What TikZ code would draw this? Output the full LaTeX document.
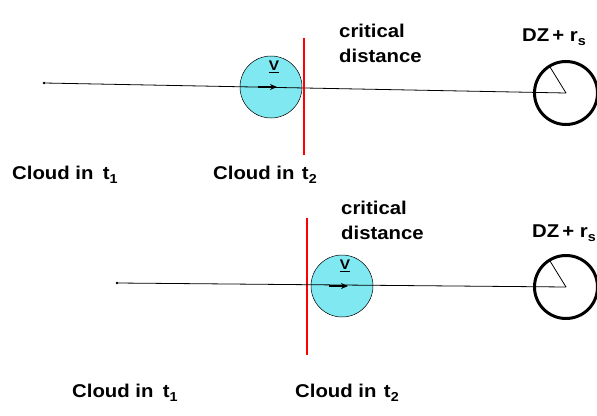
\documentclass[tikz,border=0pt]{standalone}
\usepackage{fontspec}
\setmainfont{Liberation Sans}[FakeStretch=1.1]
\usetikzlibrary{arrows.meta}
\definecolor{cloudfill}{RGB}{128,232,240}
\newcommand{\lowsub}[1]{\raisebox{-4.5pt}{\fontsize{13}{13}\selectfont #1}}
\begin{document}
\begin{tikzpicture}[x=1pt,y=-1pt,
  lbl/.style={font=\fontsize{18.5}{25}\selectfont\bfseries, inner sep=0pt, anchor=base west},
  twoline/.style={font=\fontsize{18.5}{25}\selectfont\bfseries, inner sep=0pt, anchor=north west, align=left},
  cloud/.style={circle, draw=black, line width=0.5pt, fill=cloudfill, minimum size=62pt, inner sep=0pt},
  dz/.style={circle, draw=black, line width=3pt, minimum size=63pt, inner sep=0pt},
  traj/.style={draw=black, line width=0.8pt},
  crit/.style={draw=red, line width=2.5pt},
  vel/.style={-{Stealth[length=7pt,width=6pt]}, line width=1.2pt},
  vlab/.style={font=\fontsize{14}{16}\selectfont\bfseries, inner sep=0pt}
  ]
\useasboundingbox (0,0) rectangle (597,415);

% ---------- top scene ----------
\coordinate (s1) at (44,83);
\node[cloud] (c1) at (271,87) {};
\node[dz] (d1) at (566,93) {};
\fill (s1) circle (1.3pt);
\draw[traj] (s1) -- (d1.center);
\draw[traj] (d1.center) -- ++(-16,-26);
\draw[vel] ([xshift=-13pt]c1.center) -- ([xshift=6pt]c1.center);
\node[vlab] (v1) at (274,67) {\underline{V}};
\coordinate (r1t) at (304,38);
\coordinate (r1b) at (304,155);
\draw[crit] (r1t) -- (r1b);
\node[twoline] (cd1) at (339,24) {critical\\distance};
\node[lbl] (dzl1) at (522,41) {DZ\,+ r\lowsub{s}};
\node[lbl] (t11) at (12,179) {Cloud in\hspace{0.5em}t\lowsub{1}};
\node[lbl] (t21) at (213,179) {Cloud in\hspace{0.4em}t\lowsub{2}};

% ---------- bottom scene ----------
\coordinate (s2) at (117,283);
\coordinate (r2t) at (307,218);
\coordinate (r2b) at (307,355);
\draw[crit] (r2t) -- (r2b);
\node[cloud] (c2) at (342,286) {};
\node[dz] (d2) at (566,287) {};
\fill (s2) circle (1.3pt);
\draw[traj] (s2) -- (d2.center);
\draw[traj] (d2.center) -- ++(-16,-26);
\draw[vel] ([xshift=-13pt]c2.center) -- ([xshift=6pt]c2.center);
\node[vlab] (v2) at (345,266) {\underline{V}};
\node[twoline] (cd2) at (341,201) {critical\\distance};
\node[lbl] (dzl2) at (532,237) {DZ\,+ r\lowsub{s}};
\node[lbl] (t12) at (72,397) {Cloud in\hspace{0.5em}t\lowsub{1}};
\node[lbl] (t22) at (295,397) {Cloud in\hspace{0.4em}t\lowsub{2}};
\end{tikzpicture}
\end{document}
